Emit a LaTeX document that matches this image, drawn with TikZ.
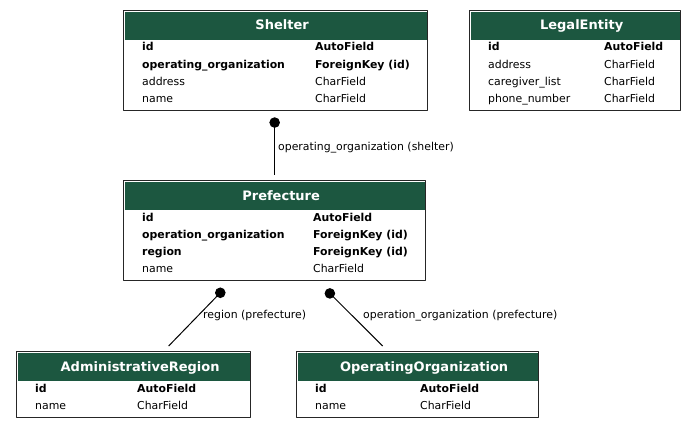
\documentclass[tikz,border=0pt]{standalone}
\usepackage{fontspec}
\setmainfont{DejaVu Sans}
\usetikzlibrary{arrows.meta}
\definecolor{hdrgreen}{RGB}{28,87,64}
% #1 name, #2 title, #3 corner, #4 width, #5 height, #6 type column, #7 rows
\newcommand\erdtable[7]{%
	\node[tbl, minimum width=#4pt, minimum height=#5pt] (#1) at (#3) {};
	\fill[hdrgreen] ([shift={(1.6,1.6)}]#1.north west) rectangle ([shift={(-1.6,30)}]#1.north east);
	\node[ttl] (#1-title) at ([shift={(6.5,20)}]#1.north) {#2};
	\foreach \n/\t/\w [count=\i] in {#7}{
		\node[fld] (#1-n\i) at ([shift={(19,23.7+17.3*\i)}]#1.north west) {\w\n};
		\node[fld] (#1-t\i) at ([shift={(#6,23.7+17.3*\i)}]#1.north west) {\w\t};}
}
\tikzset{
	tbl/.style={draw=black!85, line width=1.3pt, inner sep=0pt, anchor=north west},
	ttl/.style={anchor=base, inner sep=0pt, text=white, font=\fontsize{13}{15}\selectfont\bfseries},
	fld/.style={anchor=base west, inner sep=0pt, font=\fontsize{10.9}{12}\selectfont},
	lbl/.style={anchor=base west, inner sep=0pt, font=\fontsize{10.9}{12}\selectfont},
	fk/.style={line width=1pt, {Circle[length=10.5pt,width=10.5pt]}-}
}
\begin{document}
\begin{tikzpicture}[x=1pt, y=-1pt, line join=round]
	\useasboundingbox (0,0) rectangle (696,428);
	\erdtable{shelter}{Shelter}{123,10}{304}{100}{192}{id/AutoField/\bfseries, operating\_organization/ForeignKey (id)/\bfseries, address/CharField/\relax, name/CharField/\relax}
	\erdtable{legal}{LegalEntity}{469,10}{211}{100}{135}{id/AutoField/\bfseries, address/CharField/\relax, caregiver\_list/CharField/\relax, phone\_number/CharField/\relax}
	\erdtable{prefecture}{Prefecture}{123,180}{302}{100}{190}{id/AutoField/\bfseries, operation\_organization/ForeignKey (id)/\bfseries, region/ForeignKey (id)/\bfseries, name/CharField/\relax}
	\erdtable{adminregion}{AdministrativeRegion}{16,351}{234}{66}{121}{id/AutoField/\bfseries, name/CharField/\relax}
	\erdtable{oporg}{OperatingOrganization}{296,351}{242}{66}{124}{id/AutoField/\bfseries, name/CharField/\relax}
	% foreign keys
	\draw[fk] ([shift={(-1,6)}]shelter.south) -- ([shift={(0,-5)}]prefecture.north);
	\draw[fk] ([shift={(-50.7,7.7)}]prefecture.south) -- ([shift={(35,-5)}]adminregion.north);
	\draw[fk] ([shift={(51.5,8.4)}]prefecture.south) -- ([shift={(-35,-5)}]oporg.north);
	\node[lbl] (l-shelter) at (278,150) {operating\_organization (shelter)};
	\node[lbl] (l-region) at (203,318) {region (prefecture)};
	\node[lbl] (l-oporg) at (363,318) {operation\_organization (prefecture)};
\end{tikzpicture}
\end{document}
